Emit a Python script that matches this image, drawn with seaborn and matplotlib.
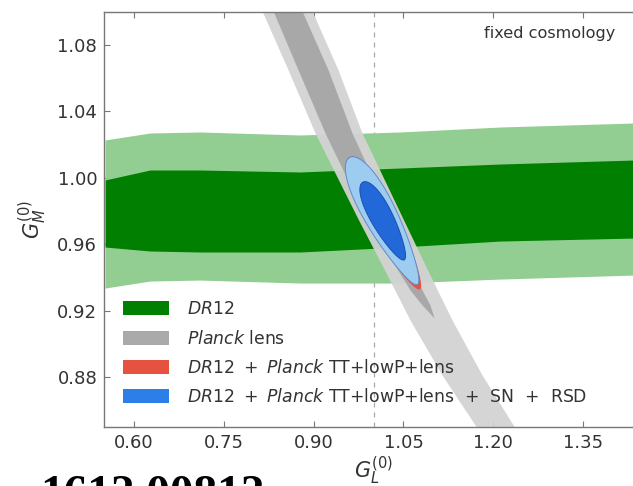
import numpy as np
import matplotlib
matplotlib.use("Agg")
import matplotlib.pyplot as plt
import seaborn as sns
from matplotlib.patches import Patch

# ---------------- data ----------------
# DR12 band: x knots and lower/upper limits of the 1σ and 2σ regions
dr12_x = [0.5516, 0.6267, 0.7102, 0.8773, 1.0443, 1.2113, 1.4335, 1.45]
dr12_2s_top = [1.0228, 1.0270, 1.0276, 1.0258, 1.0276, 1.0306, 1.0330, 1.0331]
dr12_1s_top = [0.9987, 1.0047, 1.0047, 1.0035, 1.0059, 1.0083, 1.0107, 1.0108]
dr12_1s_bot = [0.9583, 0.9559, 0.9553, 0.9553, 0.9583, 0.9619, 0.9637, 0.9638]
dr12_2s_bot = [0.9336, 0.9378, 0.9384, 0.9366, 0.9366, 0.9390, 0.9414, 0.9415]

# Planck lensing band: y levels with left/right x limits
lens_2s_y = [1.1204, 1.1005, 1.0650, 1.0270, 0.9746, 0.9445, 0.9143, 0.8812, 0.8493, 0.8294]
lens_2s_xl = [0.7897, 0.8138, 0.8573, 0.9023, 0.9750, 1.0184, 1.0610, 1.1144, 1.1729, 1.2072]
lens_2s_xr = [0.8749, 0.8973, 0.9408, 0.9808, 1.0502, 1.0902, 1.1312, 1.1813, 1.2364, 1.2690]
lens_1s_y = [1.1204, 1.1005, 1.0650, 1.0270, 0.9746, 0.9324, 0.9234, 0.9156]
lens_1s_xl = [0.8088, 0.8322, 0.8740, 0.9190, 0.9892, 1.0610, 1.0810, 1.1011]
lens_1s_xr = [0.8572, 0.8806, 0.9241, 0.9641, 1.0309, 1.0810, 1.0944, 1.1011]

# Combined constraints: ellipse centre, major and minor half-axis vectors, taper
# order: [red 2σ, blue 2σ, blue 1σ]
ell_cx = [1.0187, 1.0167, 1.0167]
ell_cy = [0.9727, 0.9740, 0.9740]
ell_ax = [0.0588, 0.0565, 0.0345]
ell_ay = [-0.0399, -0.0383, -0.0234]
ell_bx = [0.0221, 0.0236, 0.0162]
ell_by = [0.0042, 0.0045, 0.0031]
ell_taper = [0.30, 0.28, 0.22]

x_ticks = [0.60, 0.75, 0.90, 1.05, 1.20, 1.35]
y_ticks = [0.88, 0.92, 0.96, 1.00, 1.04, 1.08]
legend_labels = [r"$DR12$", r"$Planck$ lens",
                 r"$DR12\ +\ Planck$ TT+lowP+lens",
                 r"$DR12\ +\ Planck$ TT+lowP+lens  +  SN  +  RSD"]

# ---------------- colours ----------------
c_green_dark = "#007f00"
c_green_light = "#92cd92"
c_gray_dark = "#a6a6a6"
c_gray_light = "#d3d3d3"
c_red = "#e5523f"
c_blue_dark = "#2368d8"
c_blue_light = "#9ccdf0"

sns.set_theme(style="ticks")
plt.rcParams["font.family"] = ["DejaVu Sans"]

fig = plt.figure(figsize=(6.33, 4.86), dpi=100)
ax = fig.add_axes([0.1645, 0.1218, 0.8512, 0.8539])

# reference lines
ax.axvline(1.0, color="#aaaaaa", ls=(0, (4, 4)), lw=0.9, zorder=0.5)
ax.axhline(1.0, color="#aaaaaa", ls=(0, (4, 4)), lw=0.9, zorder=0.5)

# DR12
ax.fill_between(dr12_x, dr12_2s_bot, dr12_2s_top, color=c_green_light, lw=0, zorder=1)
ax.fill_between(dr12_x, dr12_1s_bot, dr12_1s_top, color=c_green_dark, lw=0, zorder=1.1)

# Planck lensing
ax.fill_betweenx(lens_2s_y, lens_2s_xl, lens_2s_xr, color=c_gray_light, lw=0, alpha=0.95, zorder=2)
ax.fill_betweenx(lens_1s_y, lens_1s_xl, lens_1s_xr, color=c_gray_dark, lw=0, alpha=0.95, zorder=2.1)

# combined ellipses
t = np.linspace(0, 2 * np.pi, 300)
cols = [(c_red, None), (c_blue_light, "#6488cc"), (c_blue_dark, "#1d4fb0")]
for i, (fc, ec) in enumerate(cols):
    w = 1.0 - ell_taper[i] * np.cos(t)
    ex = ell_cx[i] + ell_ax[i] * np.cos(t) + ell_bx[i] * w * np.sin(t)
    ey = ell_cy[i] + ell_ay[i] * np.cos(t) + ell_by[i] * w * np.sin(t)
    ax.fill(ex, ey, color=fc, lw=0, zorder=3 + i * 0.1)
    if ec is not None:
        sns.lineplot(x=ex, y=ey, sort=False, estimator=None, color=ec, lw=0.7,
                     ax=ax, zorder=3.05 + i * 0.1)

ax.set_xlim(0.55, 1.45)
ax.set_ylim(0.85, 1.10)
ax.set_xticks(x_ticks)
ax.set_xticklabels([f"{v:.2f}" for v in x_ticks])
ax.set_yticks(y_ticks)
ax.set_yticklabels([f"{v:.2f}" for v in y_ticks])
ax.tick_params(direction="in", top=True, right=True, length=4, width=0.8,
               colors="#777777", labelcolor="#333333", labelsize=13, pad=5)
for s in ax.spines.values():
    s.set_color("#777777")
    s.set_linewidth(1.0)
    s.set_zorder(5)

ax.set_xlabel(r"$G_L^{(0)}$", fontsize=15, color="#333333", labelpad=2)
ax.set_ylabel(r"$G_M^{(0)}$", fontsize=15, color="#333333", labelpad=6)

ax.text(0.948, 0.937, "fixed cosmology", transform=ax.transAxes, ha="right",
        va="baseline", fontsize=11.6, color="#333333")

handles = [Patch(facecolor=c, edgecolor="none") for c in
           [c_green_dark, "#aaaaaa", c_red, "#2c7fe8"]]
leg = ax.legend(handles, legend_labels, loc="upper left",
                bbox_to_anchor=(0.035, 0.305), frameon=False, fontsize=12.4,
                handlelength=2.65, handleheight=0.88, handletextpad=1.05,
                labelspacing=0.66, borderpad=0, borderaxespad=0)
for txt in leg.get_texts():
    txt.set_color("#333333")
leg.set_zorder(6)

fig.text(0.0632, -0.0426, "1612.00812", fontsize=34, fontweight="bold",
         family="Liberation Serif", color="black", va="baseline", ha="left")

fig.savefig("out.png", dpi=100)
